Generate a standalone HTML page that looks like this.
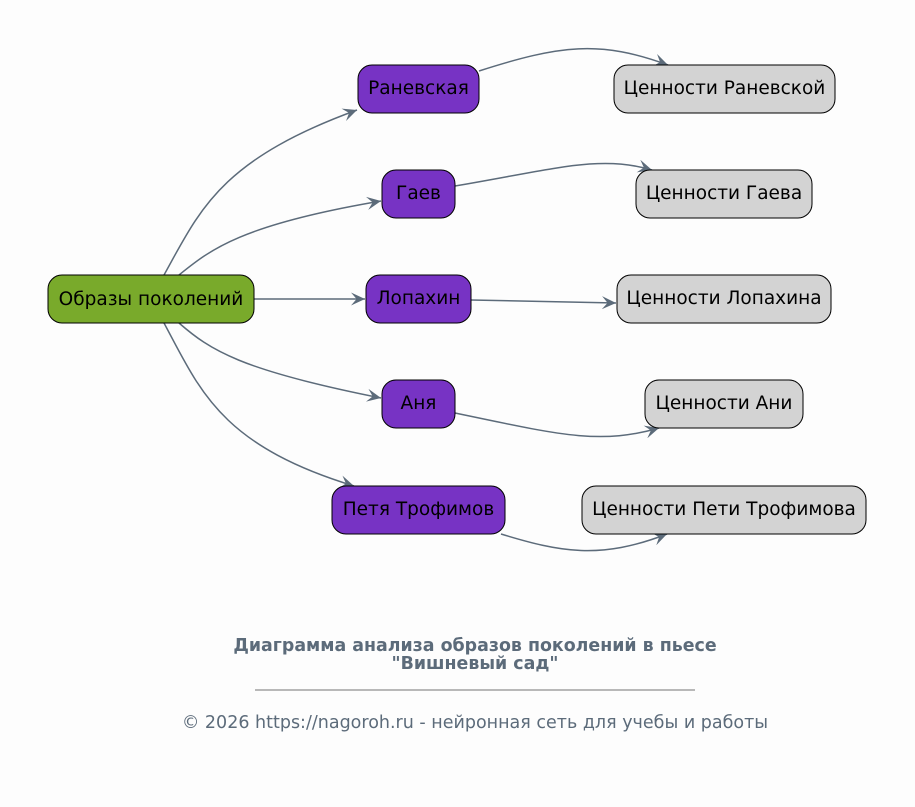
<!DOCTYPE html>
<html><head><meta charset="utf-8"><style>
html,body{margin:0;padding:0;background:#fdfdfd;}
svg{display:block;font-family:"DejaVu Sans","Liberation Sans","Noto Sans CJK SC",sans-serif;}
</style></head><body>
<svg width="915" height="807" viewBox="0 0 915 807" xmlns="http://www.w3.org/2000/svg">
<defs>
<marker id="a" viewBox="0 0 16 16" refX="15" refY="8" markerWidth="15" markerHeight="15" markerUnits="userSpaceOnUse" orient="auto">
<path d="M0,1 L15,8 L0,15 L6,8 Z" fill="#5c6b7a"/>
</marker>
</defs>
<rect width="915" height="807" fill="#fdfdfd"/>
<g fill="none" stroke="#5c6b7a" stroke-width="1.5" marker-end="url(#a)">
<path d="M164,275 C200,210 220,160 357,110"/>
<path d="M179,275 C210,250 240,225 381,201"/>
<path d="M254,299 L365,299"/>
<path d="M179,323 C210,350 240,370 381,398"/>
<path d="M164,323 C200,390 220,445 354,486"/>
<path d="M479,71 C560,45 600,40 668,65"/>
<path d="M455,186 C560,168 600,155 652,170"/>
<path d="M471,300 L616,303"/>
<path d="M455,413 C560,435 600,445 659,428"/>
<path d="M501,534 C560,552 600,560 667,534"/>
</g>
<g stroke="#000" stroke-width="1">
<rect x="48" y="275" width="206" height="48" rx="14" fill="#79aa2b"/>
<rect x="358" y="65" width="121" height="48" rx="14" fill="#7733c4"/>
<rect x="382" y="170" width="73" height="48" rx="14" fill="#7733c4"/>
<rect x="366" y="275" width="105" height="48" rx="14" fill="#7733c4"/>
<rect x="382" y="380" width="73" height="48" rx="14" fill="#7733c4"/>
<rect x="332" y="486" width="173" height="48" rx="14" fill="#7733c4"/>
<rect x="614" y="65" width="221" height="48" rx="14" fill="#d3d3d3"/>
<rect x="636" y="170" width="176" height="48" rx="14" fill="#d3d3d3"/>
<rect x="617" y="275" width="214" height="48" rx="14" fill="#d3d3d3"/>
<rect x="645" y="380" width="158" height="48" rx="14" fill="#d3d3d3"/>
<rect x="582" y="486" width="284" height="48" rx="14" fill="#d3d3d3"/>
</g>
<g font-size="18.5" text-anchor="middle" fill="#000">
<text x="151" y="305">Образы поколений</text>
<text x="418.5" y="94">Раневская</text>
<text x="418.5" y="199">Гаев</text>
<text x="418.5" y="304">Лопахин</text>
<text x="418.5" y="409">Аня</text>
<text x="418.5" y="515">Петя Трофимов</text>
<text x="724.5" y="94">Ценности Раневской</text>
<text x="724" y="199">Ценности Гаева</text>
<text x="724" y="304">Ценности Лопахина</text>
<text x="724" y="409">Ценности Ани</text>
<text x="724" y="515">Ценности Пети Трофимова</text>
</g>
<g text-anchor="middle" fill="#5c6b7a">
<text x="475" y="651" font-size="17.4" font-weight="bold">Диаграмма анализа образов поколений в пьесе</text>
<text x="475" y="669" font-size="17.4" font-weight="bold">"Вишневый сад"</text>
<line x1="255" y1="690" x2="695" y2="690" stroke="#444" stroke-width="0.8"/>
<text x="475" y="728" font-size="17.5">© 2026 https://nagoroh.ru - нейронная сеть для учебы и работы</text>
</g>
</svg>
</body></html>
